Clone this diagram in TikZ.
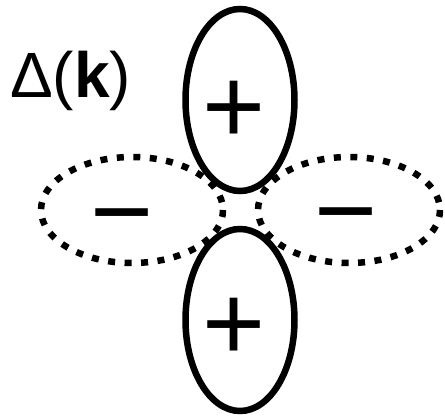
\documentclass[tikz,border=0pt]{standalone}
\usepackage{fontspec}
\setmainfont{Liberation Sans}
\begin{document}
\begin{tikzpicture}[x=1pt,y=-1pt,
  lobe/.style={line width=6.5pt},
  neglobe/.style={line width=6.5pt,dash pattern=on 7pt off 9.5pt},
  sign/.style={inner sep=0pt,anchor=base,font=\fontsize{108}{110}\selectfont},
  lbl/.style={inner sep=0pt,font=\fontsize{64}{70}\selectfont}]
\useasboundingbox (0,0) rectangle (445,417);
% lobes
\draw[neglobe] (132,210) ellipse [x radius=91, y radius=53];
\draw[neglobe] (349,210) ellipse [x radius=91, y radius=53];
\draw[lobe] (240,100) ellipse [x radius=54.5, y radius=91];
\draw[lobe] (240,320) ellipse [x radius=54.5, y radius=91];
% signs
\node[sign] (pt) at (234.5,143.5) {+};
\node[sign] (pb) at (234.5,360.5) {+};
\node[sign] (ml) at (122,248.5) {−};
\node[sign] (mr) at (346.5,247.5) {−};
% label
\node[lbl,anchor=base west] (delta) at (10,98) {Δ(\textbf{k})};
\end{tikzpicture}
\end{document}
